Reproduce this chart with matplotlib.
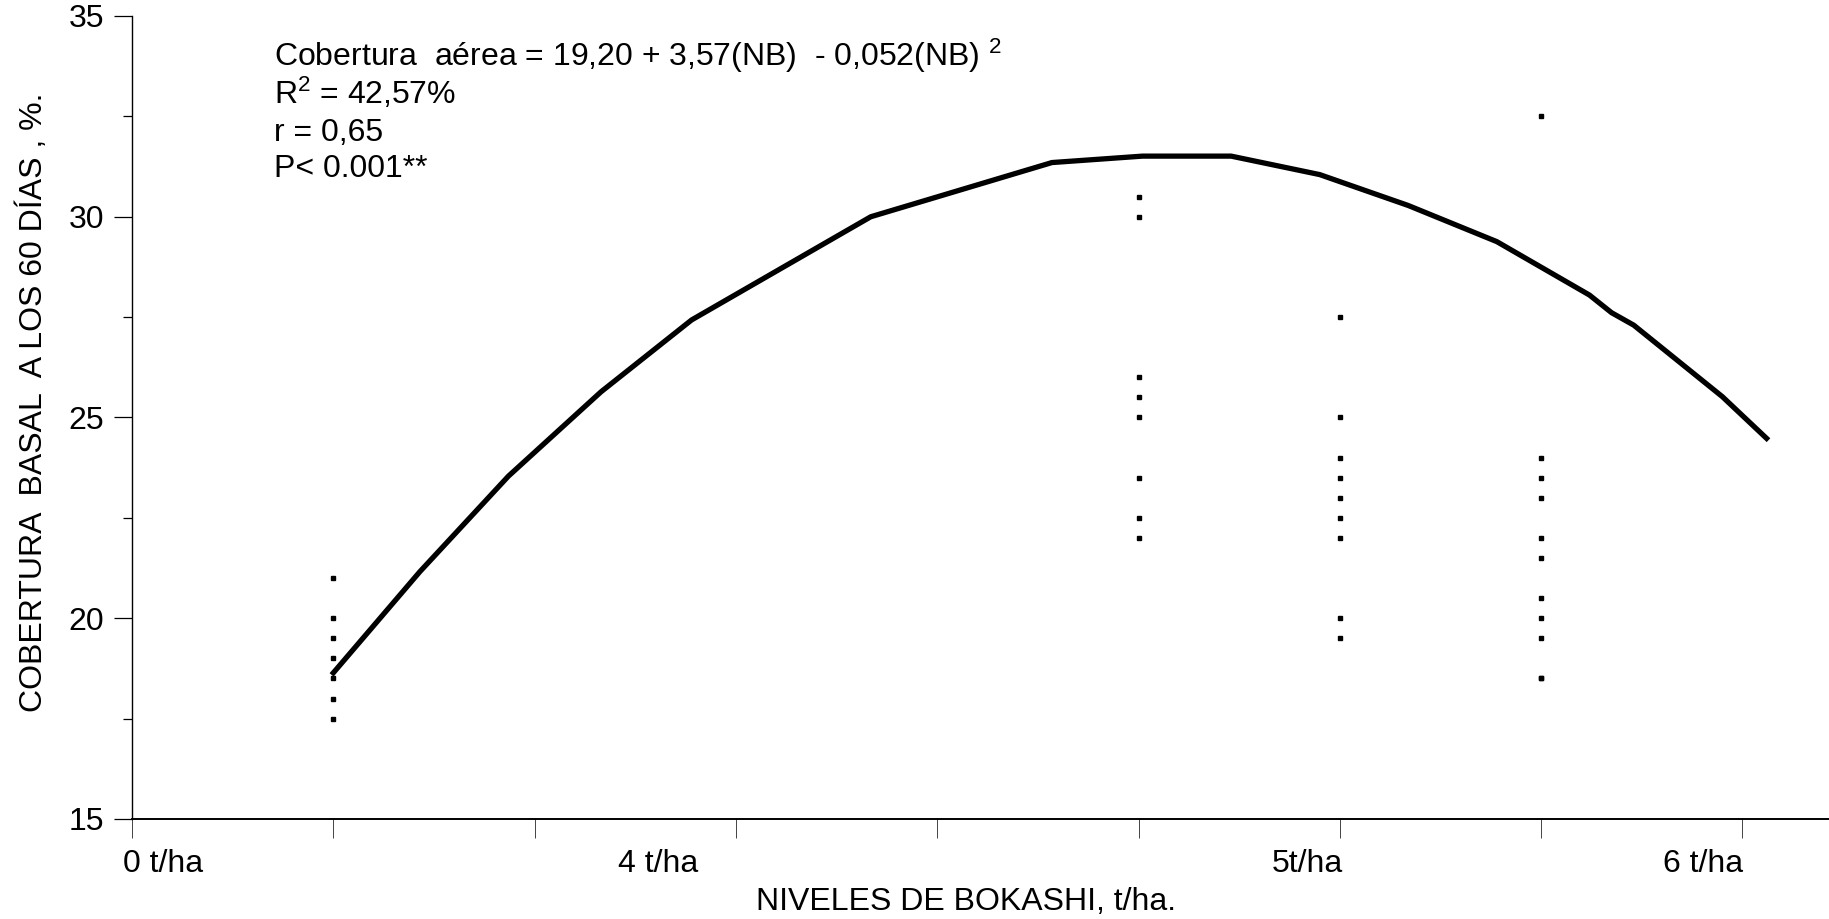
import matplotlib as mpl
import matplotlib.pyplot as plt
import matplotlib.transforms as mtransforms

mpl.rcParams["font.family"] = ["Liberation Sans", "DejaVu Sans"]
mpl.rcParams["mathtext.fontset"] = "custom"
mpl.rcParams["mathtext.rm"] = "Liberation Sans"
mpl.rcParams["mathtext.it"] = "Liberation Sans:italic"
mpl.rcParams["mathtext.bf"] = "Liberation Sans:bold"

# fitted curve
curve_x = [1.00, 1.43, 1.87, 2.33, 2.78, 3.67, 4.57, 5.02, 5.46, 5.90,
           6.34, 6.78, 7.24, 7.35, 7.46, 7.90, 8.12]
curve_y = [18.64, 21.16, 23.54, 25.64, 27.43, 30.00, 31.35, 31.51, 31.51, 31.05,
           30.28, 29.38, 28.05, 27.61, 27.30, 25.52, 24.48]

# observed values per level
obs_x = ([1] * 7) + ([5] * 8) + ([6] * 9) + ([7] * 11)
obs_y = ([21, 20, 19.5, 19, 18.5, 18, 17.5]
         + [30.5, 30, 26, 25.5, 25, 23.5, 22.5, 22]
         + [27.5, 25, 24, 23.5, 23, 22.5, 22, 20, 19.5]
         + [32.5, 24, 23.5, 23, 22, 21.5, 20.5, 20, 19.5, 18.5, 18.5])

x_ticks = [0, 1, 2, 3, 4, 5, 6, 7, 8]
x_labels = ["0 t/ha", "4 t/ha", "5t/ha", "6 t/ha"]
x_label_pos = [-0.046, 2.414, 5.66, 7.605]

y_major = [15, 20, 25, 30, 35]
y_minor = [17.5, 22.5, 27.5, 32.5]

eq_lines = [
    "Cobertura  aérea = 19,20 + 3,57(NB)  - 0,052(NB) $^{2}$",
    "R$^{2}$ = 42,57%",
    "r = 0,65",
    "P< 0.001**",
]

FS = 23
W, H = 1829, 919
fig = plt.figure(figsize=(W / 100, H / 100), dpi=100)
ax = fig.add_axes([132 / W, 100 / H, (W - 132) / W, 803 / H])

ax.plot(curve_x, curve_y, color="black", lw=3.8, solid_joinstyle="miter", zorder=3)
ax.plot(obs_x, obs_y, ls="none", marker="s", ms=2.8, color="black", zorder=4)

ax.set_xlim(0, 8.43)
ax.set_ylim(15, 35)

for s in ("top", "right"):
    ax.spines[s].set_visible(False)
ax.spines["left"].set_linewidth(1.0)
ax.spines["bottom"].set_linewidth(1.4)

ax.set_yticks(y_major)
ax.set_yticks(y_minor, minor=True)
ax.tick_params(axis="y", which="major", length=13, width=0.9, pad=7, labelsize=FS)
ax.tick_params(axis="y", which="minor", length=6.5, width=0.9)

ax.set_xticks(x_ticks)
ax.set_xticklabels([])
ax.tick_params(axis="x", which="major", length=14, width=0.7, color="#444444")

tr = mtransforms.blended_transform_factory(ax.transData, ax.transAxes)
for lbl, xp in zip(x_labels, x_label_pos):
    ax.text(xp, -0.056, lbl, transform=tr, ha="left", va="center", fontsize=FS)

base = [66, 104, 141, 177]
for line, yb in zip(eq_lines, base):
    ax.text((274 - 132) / (W - 132), (819 - yb) / 803, line, transform=ax.transAxes,
            ha="left", va="baseline", fontsize=FS)

fig.text(33 / W, 1 - 402 / H, "COBERTURA  BASAL  A LOS 60 DÍAS , %.", rotation=90,
         ha="center", va="center", fontsize=FS)
fig.text(966 / W, 1 - 902 / H, "NIVELES DE BOKASHI, t/ha.", ha="center", va="center",
         fontsize=FS)

fig.savefig("out.png", dpi=100)
